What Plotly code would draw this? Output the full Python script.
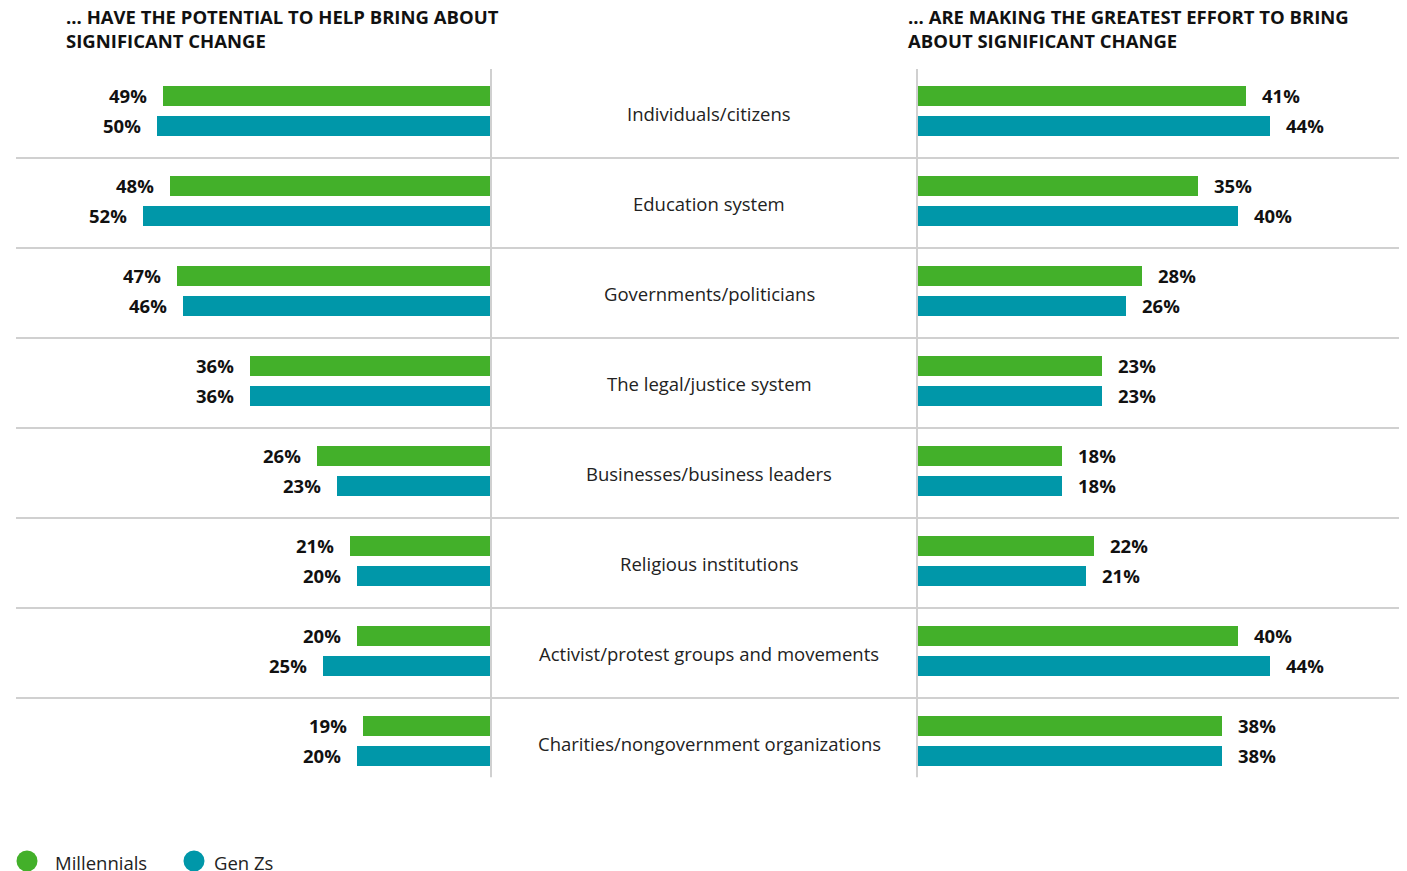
import plotly.graph_objects as go

categories = ["Individuals/citizens", "Education system", "Governments/politicians",
              "The legal/justice system", "Businesses/business leaders",
              "Religious institutions", "Activist/protest groups and movements",
              "Charities/nongovernment organizations"]
potential_millennials = [49, 48, 47, 36, 26, 21, 20, 19]
potential_genz = [50, 52, 46, 36, 23, 20, 25, 20]
effort_millennials = [41, 35, 28, 23, 18, 22, 40, 38]
effort_genz = [44, 40, 26, 23, 18, 21, 44, 38]
series_names = ["Millennials", "Gen Zs"]
titles = ["... HAVE THE POTENTIAL TO HELP BRING ABOUT<br>SIGNIFICANT CHANGE",
          "... ARE MAKING THE GREATEST EFFORT TO BRING<br>ABOUT SIGNIFICANT CHANGE"]

W, H = 1407, 871
OFF = 8  # page body margin
GREEN = "#43B02A"
TEAL = "#0097A9"
GRID = "#D0D0D0"
FONT = "Open Sans"
FS = 18.5

n = len(categories)
y_m = [i + 0.31 for i in range(n)]
y_g = [i + 0.64 for i in range(n)]
bw = 0.222

def px(x):
    return (x - OFF) / W

def py(y):
    return 1 - (y - OFF) / H

fig = go.Figure()
fig.add_trace(go.Bar(y=y_m, x=potential_millennials, orientation="h", width=bw,
                     marker=dict(color=GREEN, line_width=0), xaxis="x", yaxis="y",
                     name=series_names[0], showlegend=False))
fig.add_trace(go.Bar(y=y_g, x=potential_genz, orientation="h", width=bw,
                     marker=dict(color=TEAL, line_width=0), xaxis="x", yaxis="y",
                     name=series_names[1], showlegend=False))
fig.add_trace(go.Bar(y=y_m, x=effort_millennials, orientation="h", width=bw,
                     marker=dict(color=GREEN, line_width=0), xaxis="x2", yaxis="y",
                     name=series_names[0], showlegend=False))
fig.add_trace(go.Bar(y=y_g, x=effort_genz, orientation="h", width=bw,
                     marker=dict(color=TEAL, line_width=0), xaxis="x2", yaxis="y",
                     name=series_names[1], showlegend=False))

annotations = []
lab_font = dict(family=FONT, size=FS, color="#111111")
for i in range(n):
    annotations.append(dict(x=potential_millennials[i], y=y_m[i], xref="x", yref="y",
                            text=f"<b>{potential_millennials[i]}%</b>", showarrow=False,
                            xanchor="right", xshift=-14, font=lab_font))
    annotations.append(dict(x=potential_genz[i], y=y_g[i], xref="x", yref="y",
                            text=f"<b>{potential_genz[i]}%</b>", showarrow=False,
                            xanchor="right", xshift=-14, font=lab_font))
    annotations.append(dict(x=effort_millennials[i], y=y_m[i], xref="x2", yref="y",
                            text=f"<b>{effort_millennials[i]}%</b>", showarrow=False,
                            xanchor="left", xshift=14, font=lab_font))
    annotations.append(dict(x=effort_genz[i], y=y_g[i], xref="x2", yref="y",
                            text=f"<b>{effort_genz[i]}%</b>", showarrow=False,
                            xanchor="left", xshift=14, font=lab_font))
    annotations.append(dict(x=px(709), y=i + 0.5, xref="paper", yref="y",
                            text=categories[i], showarrow=False, xanchor="center",
                            font=dict(family=FONT, size=FS, color="#222222")))

title_font = dict(family=FONT, size=FS, color="#111111")
for tx, t in ((65, titles[0]), (907, titles[1])):
    annotations.append(dict(x=px(tx), y=py(28), xref="paper", yref="paper", text=f"<b>{t}</b>",
                            showarrow=False, xanchor="left", yanchor="middle", align="left",
                            borderpad=0, font=title_font))

shapes = []
for i in range(1, n):
    shapes.append(dict(type="line", xref="paper", yref="y", x0=px(16), x1=px(1402), y0=i, y1=i,
                       line=dict(color=GRID, width=2)))
for xv in (491, 917):
    shapes.append(dict(type="line", xref="paper", yref="y", x0=px(xv), x1=px(xv), y0=0.01, y1=7.88,
                       line=dict(color=GRID, width=2)))

# legend
leg = [(27, 53, GREEN, series_names[0]), (194, 212, TEAL, series_names[1])]
for cx, tx, col, name in leg:
    r = 10.5
    shapes.append(dict(type="circle", xref="paper", yref="paper", x0=px(cx - r), x1=px(cx + r),
                       y0=py(861 + r), y1=py(861 - r), fillcolor=col, line_width=0))
    annotations.append(dict(x=px(tx), y=py(862), xref="paper", yref="paper", text=name,
                            showarrow=False, xanchor="left", yanchor="middle",
                            font=dict(family=FONT, size=FS, color="#222222")))

fig.update_layout(
    width=W, height=H, margin=dict(l=0, r=0, t=0, b=0),
    paper_bgcolor="white", plot_bgcolor="white",
    barmode="overlay", bargap=0,
    xaxis=dict(domain=[px(OFF), px(490)], range=[(490 - OFF) / 6.67, 0], visible=False, fixedrange=True),
    xaxis2=dict(domain=[px(918), px(1402)], range=[0, 484 / 8.0], visible=False, fixedrange=True),
    yaxis=dict(domain=[py(788), py(68)], range=[n, 0], visible=False, fixedrange=True),
    annotations=annotations, shapes=shapes, showlegend=False,
    font=dict(family=FONT),
)

fig.write_html("out.html")
